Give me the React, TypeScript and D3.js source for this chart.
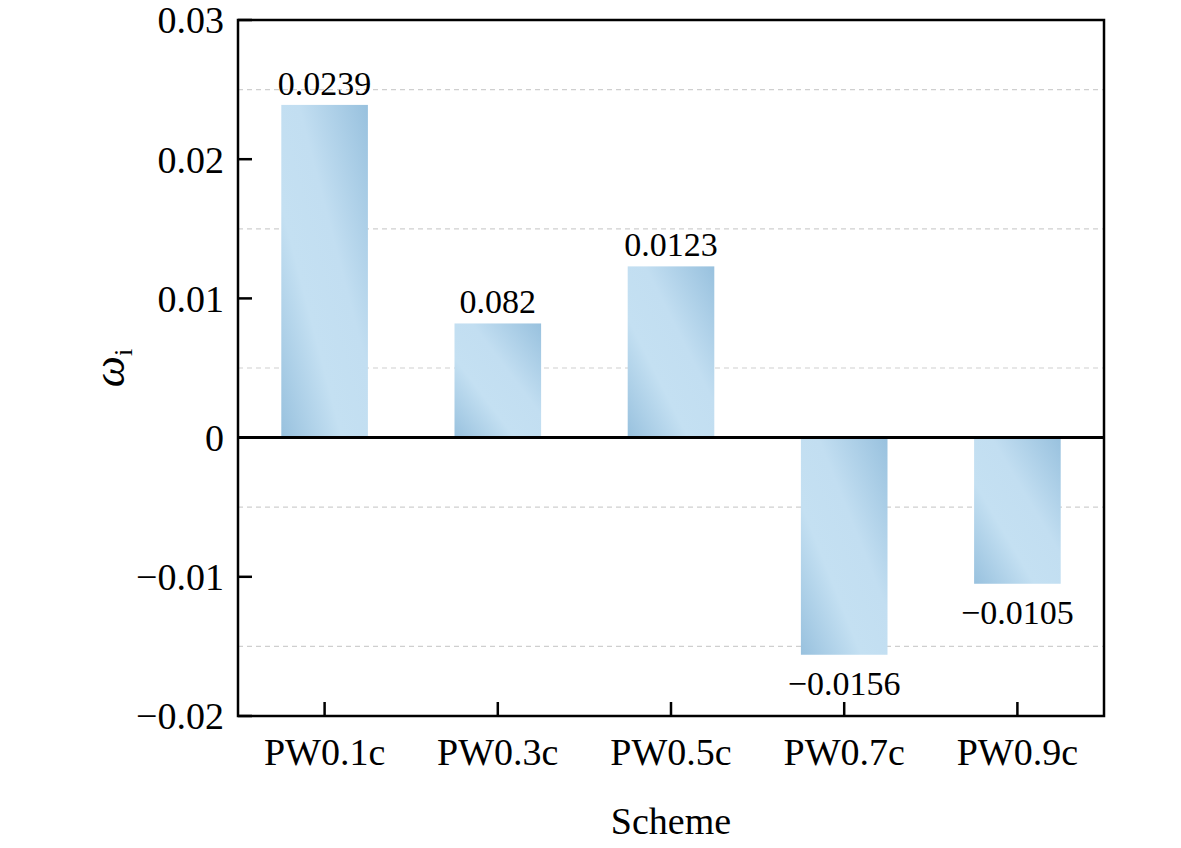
import React from 'react';
import * as d3 from 'd3';

const schemes = ['PW0.1c', 'PW0.3c', 'PW0.5c', 'PW0.7c', 'PW0.9c'];
const values = [0.0239, 0.0082, 0.0123, -0.0156, -0.0105];
const labels = ['0.0239', '0.082', '0.0123', '\u22120.0156', '\u22120.0105'];
const majorTicks = [-0.02, -0.01, 0, 0.01, 0.02, 0.03];
const minorTicks = [-0.015, -0.005, 0.005, 0.015, 0.025];

const W = 1181, H = 848;
const m = { left: 238, right: 1104, top: 20, bottom: 716 };
const font = '"Liberation Serif", "Times New Roman", Times, serif';

const fmt = (v: number) => (v === 0 ? '0' : (v < 0 ? '\u2212' : '') + Math.abs(v).toFixed(2));

export default function App() {
  const x = d3.scaleBand().domain(schemes).range([m.left, m.right]).paddingInner(0.5).paddingOuter(0.25);
  const y = d3.scaleLinear().domain([-0.02, 0.03]).range([m.bottom, m.top]);
  const y0 = y(0);

  return (
    <svg width={W} height={H} style={{ position: 'absolute', left: 0, top: 0 }} fontFamily={font}>
      <defs>
        <linearGradient id="barGrad" x1="0" y1="1" x2="1" y2="0">
          <stop offset="0" stopColor="#98c1de" />
          <stop offset="0.35" stopColor="#c4e0f2" />
          <stop offset="0.6" stopColor="#c2def1" />
          <stop offset="1" stopColor="#98c1de" />
        </linearGradient>
      </defs>
      <rect width={W} height={H} fill="#fff" />
      {minorTicks.map(t => (
        <line key={t} x1={m.left} x2={m.right} y1={y(t)} y2={y(t)} stroke="#cfcfcf" strokeWidth={1.2} strokeDasharray="5 4" />
      ))}
      {values.map((v, i) => (
        <rect key={i} x={x(schemes[i])!} width={x.bandwidth()} y={Math.min(y(v), y0)} height={Math.abs(y(v) - y0)} fill="url(#barGrad)" />
      ))}
      {values.map((v, i) => (
        <text key={'l' + i} x={x(schemes[i])! + x.bandwidth() / 2} y={v >= 0 ? y(v) - 10 : y(v) + 40} textAnchor="middle" fontSize={34}>
          {labels[i]}
        </text>
      ))}
      <line x1={m.left} x2={m.right} y1={y0} y2={y0} stroke="#000" strokeWidth={3} />
      <rect x={m.left} y={m.top} width={m.right - m.left} height={m.bottom - m.top} fill="none" stroke="#000" strokeWidth={2.5} />
      {majorTicks.map(t => (
        <g key={t}>
          <line x1={m.left} x2={m.left + 14} y1={y(t)} y2={y(t)} stroke="#000" strokeWidth={2.5} />
          <text x={m.left - 14} y={y(t)} dy="0.35em" textAnchor="end" fontSize={38}>{fmt(t)}</text>
        </g>
      ))}
      {schemes.map(s => {
        const cx = x(s)! + x.bandwidth() / 2;
        return (
          <g key={s}>
            <line x1={cx} x2={cx} y1={m.bottom} y2={m.bottom - 14} stroke="#000" strokeWidth={2.5} />
            <text x={cx} y={m.bottom + 49} textAnchor="middle" fontSize={38}>{s}</text>
          </g>
        );
      })}
      <text x={(m.left + m.right) / 2} y={834} textAnchor="middle" fontSize={38}>Scheme</text>
      <text transform={`translate(124,368) rotate(-90)`} textAnchor="middle" fontSize={44}>
        <tspan fontStyle="italic">ω</tspan>
        <tspan fontSize={26} dy={8}>i</tspan>
      </text>
    </svg>
  );
}
